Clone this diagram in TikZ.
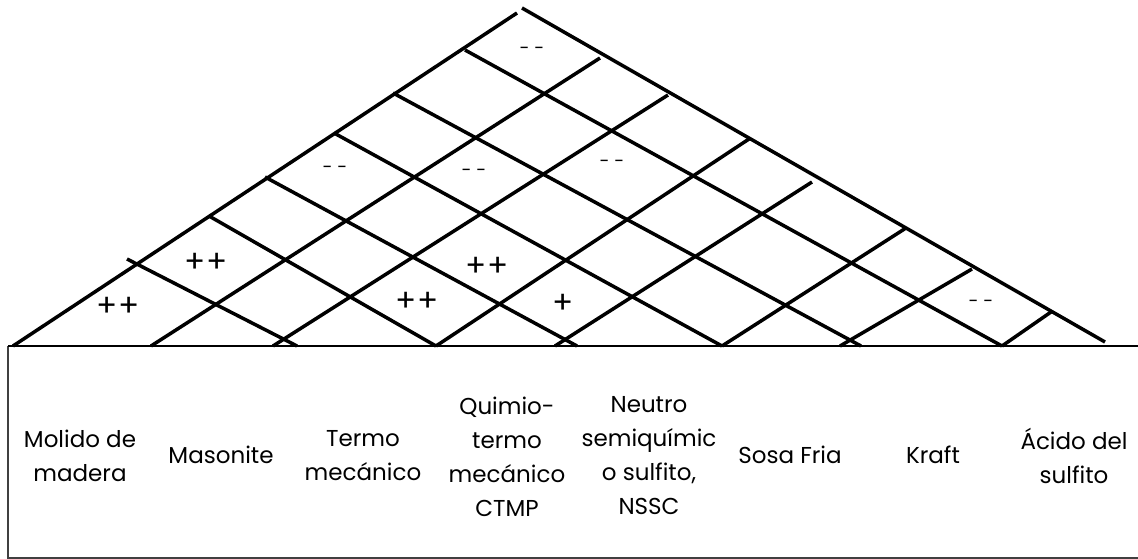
\documentclass[tikz,border=0pt]{standalone}
\usepackage{fontspec}
\setmainfont{Poppins}

\tikzset{
  proc/.style={align=center, font=\fontsize{23}{34}\selectfont},
  plusmk/.style={font=\fontsize{31}{31}\selectfont},
  minusmk/.style={font=\fontsize{18}{18}\selectfont}
}

\begin{document}
\begin{tikzpicture}[x=1pt, y=-1pt, line width=3.5pt]
\useasboundingbox (0,0) rectangle (1138,559);

% caja de procesos
\draw[line width=1.5pt, black!75] (1138,558) -- (8,558) -- (8,346);
\draw[line width=2.5pt] (8,346) -- (1138,346);

% lineas que suben hacia la derecha
\foreach \xa/\xb/\yb in {13/517/13, 151/600/58, 273/668/95, 436/749/139,
                         555/812/182, 722/906/228, 840/972/269, 1002/1051/312}
  \draw (\xa,346) -- (\xb,\yb);

% lineas que bajan hacia la derecha
\foreach \xa/\ya/\xb in {127/259/297, 209/216/436, 265/177/577, 334/133/722,
                         393/93/861, 465/50/1002}
  \draw (\xa,\ya) -- (\xb,346);
\draw (522,8) -- (1105,342);

% correlaciones
\node[minusmk] (m1) at (532,51) {- -};
\node[minusmk] (m2) at (335,170) {- -};
\node[minusmk] (m3) at (474,173) {- -};
\node[minusmk] (m4) at (612,164) {- -};
\node[minusmk] (m5) at (981,304) {- -};
\node[plusmk] (p1) at (206,263) {++};
\node[plusmk] (p2) at (487,267) {++};
\node[plusmk] (p3) at (118,307) {++};
\node[plusmk] (p4) at (417,302) {++};
\node[plusmk] (p5) at (563,304) {+};

% procesos
\node[proc] (molido)  at (80,456)   {Molido de\\madera};
\node[proc] (masonite) at (221,455) {Masonite};
\node[proc] (termo)   at (363,456)  {Termo\\mecánico};
\node[proc] (ctmp)    at (507,457)  {Quimio-\\termo\\mecánico\\CTMP};
\node[proc] (nssc)    at (649,456)  {Neutro\\semiquímic\\o sulfito,\\NSSC};
\node[proc] (sosa)    at (790,455)  {Sosa Fria};
\node[proc] (kraft)   at (933,455)  {Kraft};
\node[proc] (acido)   at (1074,456) {Ácido del\\sulfito};
\end{tikzpicture}
\end{document}
